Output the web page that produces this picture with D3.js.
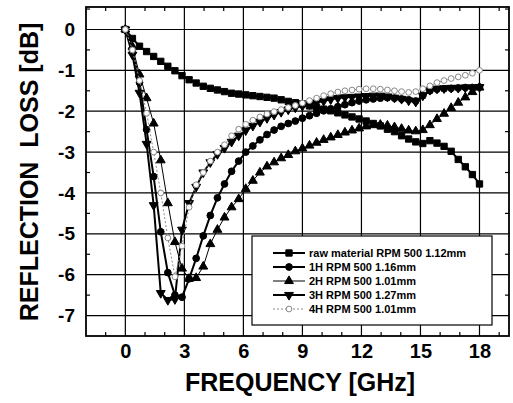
<!DOCTYPE html>
<html>
<head>
<meta charset="utf-8">
<script src="https://cdn.jsdelivr.net/npm/d3@7"></script>
<style>
  body { margin: 0; background: #fff; }
  svg { font-family: "Liberation Sans", Arial, sans-serif; }
</style>
</head>
<body>
<svg id="chart"></svg>
<script>
// frequency points (GHz)
const freq = [0, 0.36, 0.72, 1.08, 1.44, 1.8, 2.16, 2.52, 2.88, 3.24, 3.6, 3.96, 4.32, 4.68, 5.04, 5.4,
  5.76, 6.12, 6.48, 6.84, 7.2, 7.56, 7.92, 8.28, 8.64, 9, 9.36, 9.72, 10.08, 10.44, 10.8, 11.16, 11.52,
  11.88, 12.24, 12.6, 12.96, 13.32, 13.68, 14.04, 14.4, 14.76, 15.12, 15.48, 15.84, 16.2, 16.56, 16.92,
  17.28, 17.64, 18];

// reflection loss (dB)
const rawMaterial = [0, -0.22, -0.41, -0.54, -0.66, -0.78, -0.90, -1.01, -1.13, -1.23, -1.31, -1.39, -1.44,
  -1.48, -1.52, -1.56, -1.58, -1.60, -1.62, -1.64, -1.66, -1.68, -1.72, -1.76, -1.79, -1.82, -1.87, -1.91,
  -1.95, -1.99, -2.04, -2.09, -2.14, -2.19, -2.24, -2.30, -2.36, -2.44, -2.50, -2.60, -2.68, -2.75, -2.79,
  -2.72, -2.78, -2.86, -2.98, -3.18, -3.36, -3.55, -3.78];
const h1 = [0, -0.5, -1.3, -2.45, -3.6, -4.95, -5.95, -6.5, -6.55, -6.1, -5.6, -5.05, -4.55, -4.12, -3.78,
  -3.47, -3.22, -3.0, -2.85, -2.7, -2.57, -2.46, -2.37, -2.3, -2.24, -2.17, -2.11, -2.05, -1.99, -1.94,
  -1.89, -1.84, -1.79, -1.75, -1.72, -1.7, -1.68, -1.67, -1.68, -1.7, -1.72, -1.75, -1.62, -1.5, -1.46,
  -1.45, -1.44, -1.43, -1.42, -1.42, -1.41];
const h2 = [0, -0.42, -1.1, -1.68, -2.3, -3.2, -4.25, -5.2, -5.85, -6.1, -6.08, -5.8, -5.25, -4.9, -4.6,
  -4.35, -4.15, -3.9, -3.7, -3.5, -3.35, -3.25, -3.15, -3.07, -2.98, -2.91, -2.84, -2.77, -2.7, -2.64,
  -2.58, -2.52, -2.47, -2.42, -2.37, -2.34, -2.33, -2.35, -2.39, -2.43, -2.47, -2.49, -2.46, -2.34, -2.19,
  -2.06, -1.92, -1.79, -1.66, -1.53, -1.42];
const h3 = [0, -0.62, -1.55, -2.8, -4.3, -6.45, -6.62, -6.6, -4.9, -4.25, -3.85, -3.5, -3.25, -3.05, -2.9,
  -2.75, -2.6, -2.47, -2.36, -2.26, -2.17, -2.09, -2.02, -1.96, -1.91, -1.87, -1.83, -1.79, -1.75, -1.71,
  -1.68, -1.66, -1.65, -1.64, -1.63, -1.62, -1.62, -1.64, -1.67, -1.7, -1.74, -1.77, -1.62, -1.48, -1.45,
  -1.44, -1.43, -1.43, -1.42, -1.42, -1.41];
const h4 = [0, -0.5, -1.25, -2.05, -3.0, -4.0, -5.1, -6.05, -5.3, -4.35, -3.8, -3.5, -3.22, -3.0, -2.82,
  -2.6, -2.44, -2.32, -2.22, -2.14, -2.07, -2.01, -1.96, -1.91, -1.86, -1.8, -1.74, -1.68, -1.62, -1.57,
  -1.53, -1.5, -1.48, -1.46, -1.45, -1.45, -1.46, -1.48, -1.5, -1.52, -1.54, -1.52, -1.45, -1.38, -1.3,
  -1.25, -1.2, -1.16, -1.12, -1.07, -1.0];

const seriesNames = ["raw material RPM 500 1.12mm", "1H RPM 500 1.16mm", "2H RPM 500 1.01mm",
  "3H RPM 500 1.27mm", "4H RPM 500 1.01mm"];
const seriesValues = [rawMaterial, h1, h2, h3, h4];

const xTicks = [0, 3, 6, 9, 12, 15, 18];
const yTicks = [0, -1, -2, -3, -4, -5, -6, -7];
const xMinor = [-1, 1, 2, 4, 5, 7, 8, 10, 11, 13, 14, 16, 17, 19];
const yMinor = [0.5, -0.5, -1.5, -2.5, -3.5, -4.5, -5.5, -6.5];

const width = 513, height = 403;
const margin = { top: 7, right: 4, bottom: 67, left: 86 };

const svg = d3.select("#chart").attr("width", width).attr("height", height);

const x = d3.scaleLinear().domain([-2, 19.5]).range([margin.left, width - margin.right]);
const y = d3.scaleLinear().domain([-7.5, 0.55]).range([height - margin.bottom, margin.top]);

// series styles
const styles = [
  { symbol: d3.symbolSquare, size: 40, rot: 0, stroke: "#000", width: 2, dash: null, fill: "#000" },
  { symbol: d3.symbolCircle, size: 36, rot: 0, stroke: "#000", width: 2, dash: null, fill: "#000" },
  { symbol: d3.symbolTriangle, size: 34, rot: 0, stroke: "#000", width: 1, dash: null, fill: "#000" },
  { symbol: d3.symbolTriangle, size: 34, rot: 180, stroke: "#000", width: 2, dash: null, fill: "#000" },
  { symbol: d3.symbolCircle, size: 26, rot: 0, stroke: "#888", width: 1, dash: "2,2", fill: "#fff" }
];

// gridlines
svg.append("g")
  .selectAll("line.gx")
  .data(xTicks)
  .enter().append("line")
  .attr("x1", d => x(d)).attr("x2", d => x(d))
  .attr("y1", y.range()[1]).attr("y2", y.range()[0])
  .attr("stroke", "#000").attr("stroke-width", 1.2);

svg.append("g")
  .selectAll("line.gy")
  .data(yTicks)
  .enter().append("line")
  .attr("x1", x.range()[0]).attr("x2", x.range()[1])
  .attr("y1", d => y(d)).attr("y2", d => y(d))
  .attr("stroke", "#000").attr("stroke-width", 1.2);

// minor ticks inside the frame
const tickLen = 4;
svg.append("g").selectAll("line")
  .data(xMinor)
  .enter().append("line")
  .attr("x1", d => x(d)).attr("x2", d => x(d))
  .attr("y1", y.range()[0]).attr("y2", y.range()[0] - tickLen)
  .attr("stroke", "#000").attr("stroke-width", 1.2);
svg.append("g").selectAll("line")
  .data(xMinor)
  .enter().append("line")
  .attr("x1", d => x(d)).attr("x2", d => x(d))
  .attr("y1", y.range()[1]).attr("y2", y.range()[1] + tickLen)
  .attr("stroke", "#000").attr("stroke-width", 1.2);
svg.append("g").selectAll("line")
  .data(yMinor)
  .enter().append("line")
  .attr("x1", x.range()[0]).attr("x2", x.range()[0] + tickLen)
  .attr("y1", d => y(d)).attr("y2", d => y(d))
  .attr("stroke", "#000").attr("stroke-width", 1.2);
svg.append("g").selectAll("line")
  .data(yMinor)
  .enter().append("line")
  .attr("x1", x.range()[1]).attr("x2", x.range()[1] - tickLen)
  .attr("y1", d => y(d)).attr("y2", d => y(d))
  .attr("stroke", "#000").attr("stroke-width", 1.2);

// series lines and markers
seriesValues.forEach(function(vals, i) {
  const st = styles[i];
  const pts = freq.map((f, j) => ({ f: f, v: vals[j] }));
  const line = d3.line().x(d => x(d.f)).y(d => y(d.v));

  svg.append("path")
    .datum(pts)
    .attr("d", line)
    .attr("fill", "none")
    .attr("stroke", st.stroke)
    .attr("stroke-width", st.width)
    .attr("stroke-dasharray", st.dash);

  svg.append("g")
    .selectAll("path")
    .data(pts)
    .enter().append("path")
    .attr("d", d3.symbol().type(st.symbol).size(st.size))
    .attr("transform", d => `translate(${x(d.f)},${y(d.v)}) rotate(${st.rot})`)
    .attr("fill", st.fill)
    .attr("stroke", st.stroke)
    .attr("stroke-width", 1);
});

// frame
svg.append("rect")
  .attr("x", x.range()[0]).attr("y", y.range()[1])
  .attr("width", x.range()[1] - x.range()[0])
  .attr("height", y.range()[0] - y.range()[1])
  .attr("fill", "none").attr("stroke", "#000").attr("stroke-width", 1.8);

// tick labels
const xAxis = svg.append("g")
  .attr("transform", `translate(0,${y.range()[0]})`)
  .call(d3.axisBottom(x).tickValues(xTicks).tickSize(0).tickPadding(8).tickFormat(d => String(d)));
xAxis.select(".domain").remove();
xAxis.selectAll("text")
  .attr("fill", "#000")
  .style("font-size", "20px").style("font-weight", "bold")
  .style("font-family", "'Liberation Sans', Arial, sans-serif");

const yAxis = svg.append("g")
  .attr("transform", `translate(${x.range()[0]},0)`)
  .call(d3.axisLeft(y).tickValues(yTicks).tickSize(0).tickPadding(11).tickFormat(d => String(d)));
yAxis.select(".domain").remove();
yAxis.selectAll("text")
  .attr("fill", "#000")
  .style("font-size", "19px").style("font-weight", "bold")
  .style("font-family", "'Liberation Sans', Arial, sans-serif");

// axis titles
svg.append("text")
  .attr("x", 300)
  .attr("y", 391)
  .attr("text-anchor", "middle")
  .style("font-size", "25px").style("font-weight", "bold")
  .text("FREQUENCY [GHz]");

svg.append("text")
  .attr("transform", "rotate(-90)")
  .attr("x", -172)
  .attr("y", 38)
  .attr("text-anchor", "middle")
  .style("font-size", "25px").style("font-weight", "bold")
  .style("white-space", "pre")
  .text("REFLECTION  LOSS [dB]");

// legend
const legend = svg.append("g").attr("transform", "translate(252,236)");
legend.append("rect")
  .attr("width", 240).attr("height", 89)
  .attr("fill", "#fff").attr("stroke", "#000").attr("stroke-width", 1.2);

seriesNames.forEach(function(name, i) {
  const st = styles[i];
  const ly = 17 + i * 14;
  legend.append("line")
    .attr("x1", 21).attr("x2", 53)
    .attr("y1", ly).attr("y2", ly)
    .attr("stroke", st.stroke).attr("stroke-width", st.width)
    .attr("stroke-dasharray", st.dash);
  legend.append("path")
    .attr("d", d3.symbol().type(st.symbol).size(st.size))
    .attr("transform", `translate(37,${ly}) rotate(${st.rot})`)
    .attr("fill", st.fill).attr("stroke", st.stroke).attr("stroke-width", 1);
  legend.append("text")
    .attr("x", 57).attr("y", ly + 4)
    .style("font-size", "11px").style("font-weight", "bold")
    .text(name);
});
</script>
</body>
</html>
